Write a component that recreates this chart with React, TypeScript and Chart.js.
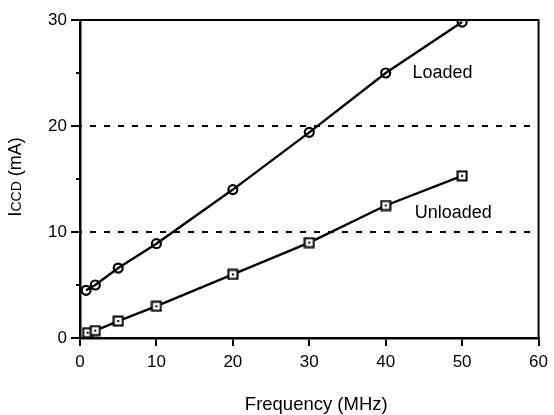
import React, { useEffect, useRef } from 'react';
import { Chart, registerables } from 'chart.js';

Chart.register(...registerables);

// ---- data ----
const loadedFreq = [0.8, 2, 5, 10, 20, 30, 40, 50];
const loadedCurrent = [4.5, 5.0, 6.6, 8.9, 14.0, 19.4, 25.0, 29.8];
const unloadedFreq = [1, 2, 5, 10, 20, 30, 40, 50];
const unloadedCurrent = [0.5, 0.7, 1.6, 3.0, 6.0, 9.0, 12.5, 15.3];
const referenceLevels = [10, 20];
const xTickValues = [0, 10, 20, 30, 40, 50, 60];
const yMajorTicks = [0, 10, 20, 30];
const yMinorTicks = [5, 15, 25];
const seriesNames = ['Loaded', 'Unloaded'];
const seriesLabelAnchors = [
  { x: 43.5, y: 25.0 },
  { x: 43.8, y: 11.8 },
];
const xTitle = 'Frequency (MHz)';
const yTitleParts = [
  { text: 'I', size: 19 },
  { text: 'CCD', size: 14 },
  { text: ' (mA)', size: 18 },
];

const FONT = '"Liberation Sans", Arial, Helvetica, sans-serif';

function makeSquareMarker(): HTMLCanvasElement {
  const c = document.createElement('canvas');
  c.width = 12;
  c.height = 12;
  const g = c.getContext('2d')!;
  g.fillStyle = '#fff';
  g.fillRect(1, 1, 10, 10);
  g.strokeStyle = '#000';
  g.lineWidth = 2;
  g.strokeRect(1.5, 1.5, 9, 9);
  g.fillStyle = '#000';
  g.fillRect(5, 5, 2, 2);
  return c;
}

const decorPlugin = {
  id: 'decor',
  afterDatasetsDraw(chart: any) {
    const { ctx, chartArea } = chart;
    const xs = chart.scales.x;
    const ys = chart.scales.y;
    ctx.save();
    ctx.strokeStyle = '#000';
    ctx.lineWidth = 2;
    ctx.beginPath();
    ctx.moveTo(chartArea.left, chartArea.top);
    ctx.lineTo(chartArea.right, chartArea.top);
    ctx.lineTo(chartArea.right, chartArea.bottom);
    ctx.stroke();
    ctx.beginPath();
    yMinorTicks.forEach((v) => {
      const py = Math.round(ys.getPixelForValue(v));
      ctx.moveTo(chartArea.left - 4, py);
      ctx.lineTo(chartArea.left, py);
    });
    ctx.stroke();
    ctx.fillStyle = '#000';
    ctx.font = `18px ${FONT}`;
    ctx.textAlign = 'left';
    ctx.textBaseline = 'middle';
    seriesNames.forEach((name, i) => {
      const a = seriesLabelAnchors[i];
      ctx.fillText(name, xs.getPixelForValue(a.x), ys.getPixelForValue(a.y));
    });
    ctx.restore();
  },
  afterDraw(chart: any) {
    const { ctx, chartArea } = chart;
    ctx.save();
    ctx.fillStyle = '#000';
    ctx.font = `18.5px ${FONT}`;
    ctx.textAlign = 'center';
    ctx.textBaseline = 'middle';
    ctx.fillText(xTitle, (chartArea.left + chartArea.right) / 2 + 7, 405);
    let total = 0;
    yTitleParts.forEach((p) => {
      ctx.font = `${p.size}px ${FONT}`;
      total += ctx.measureText(p.text).width;
    });
    ctx.translate(21, (chartArea.top + chartArea.bottom) / 2 - 2);
    ctx.rotate(-Math.PI / 2);
    ctx.textAlign = 'left';
    ctx.textBaseline = 'alphabetic';
    let x = -total / 2;
    yTitleParts.forEach((p) => {
      ctx.font = `${p.size}px ${FONT}`;
      ctx.fillText(p.text, x, 0);
      x += ctx.measureText(p.text).width;
    });
    ctx.restore();
  },
};

export default function App() {
  const ref = useRef<HTMLCanvasElement | null>(null);

  useEffect(() => {
    if (!ref.current) return;
    const square = makeSquareMarker();
    const dashed = referenceLevels.map((lvl) => ({
      type: 'line' as const,
      data: [
        { x: xTickValues[0], y: lvl },
        { x: xTickValues[xTickValues.length - 1], y: lvl },
      ],
      borderColor: '#000',
      borderWidth: 2,
      borderDash: [6, 8],
      borderDashOffset: 4,
      pointRadius: 0,
      fill: false,
    }));
    const chart = new Chart(ref.current, {
      type: 'line',
      data: {
        datasets: [
          ...dashed,
          {
            label: seriesNames[0],
            data: loadedFreq.map((f, i) => ({ x: f, y: loadedCurrent[i] })),
            borderColor: '#000',
            borderWidth: 2.4,
            pointStyle: 'circle',
            pointRadius: 4.5,
            pointBorderWidth: 2.2,
            pointBorderColor: '#000',
            pointBackgroundColor: 'rgba(255,255,255,0)',
            fill: false,
          },
          {
            label: seriesNames[1],
            data: unloadedFreq.map((f, i) => ({ x: f, y: unloadedCurrent[i] })),
            borderColor: '#000',
            borderWidth: 2.4,
            pointStyle: square,
            pointRadius: 5,
            fill: false,
          },
        ] as any,
      },
      options: {
        animation: false,
        responsive: true,
        maintainAspectRatio: false,
        layout: { padding: { left: 0, right: 14, top: 20, bottom: 0 } },
        plugins: {
          legend: { display: false },
          tooltip: { enabled: false },
          title: { display: false },
        },
        scales: {
          x: {
            type: 'linear',
            min: xTickValues[0],
            max: xTickValues[xTickValues.length - 1],
            afterBuildTicks: (scale: any) => {
              scale.ticks = xTickValues.map((v) => ({ value: v }));
            },
            afterFit: (scale: any) => {
              scale.height = 77;
            },
            ticks: {
              color: '#000',
              font: { family: FONT, size: 17 },
              padding: 6,
              maxRotation: 0,
            },
            grid: {
              drawOnChartArea: false,
              drawTicks: true,
              tickLength: 8,
              color: '#000',
              lineWidth: 2,
            },
            border: { display: true, color: '#000', width: 2.5 },
          },
          y: {
            type: 'linear',
            min: yMajorTicks[0],
            max: yMajorTicks[yMajorTicks.length - 1],
            afterBuildTicks: (scale: any) => {
              scale.ticks = yMajorTicks.map((v) => ({ value: v }));
            },
            afterFit: (scale: any) => {
              scale.width = 80;
            },
            ticks: {
              color: '#000',
              font: { family: FONT, size: 17 },
              padding: 4,
            },
            grid: {
              drawOnChartArea: false,
              drawTicks: true,
              tickLength: 9,
              color: '#000',
              lineWidth: 2,
            },
            border: { display: true, color: '#000', width: 2.5 },
          },
        },
      },
      plugins: [decorPlugin],
    });
    return () => chart.destroy();
  }, []);

  return (
    <div
      style={{
        position: 'absolute',
        left: 0,
        top: 0,
        width: 554,
        height: 415,
        background: '#fff',
      }}
    >
      <canvas ref={ref} />
    </div>
  );
}
